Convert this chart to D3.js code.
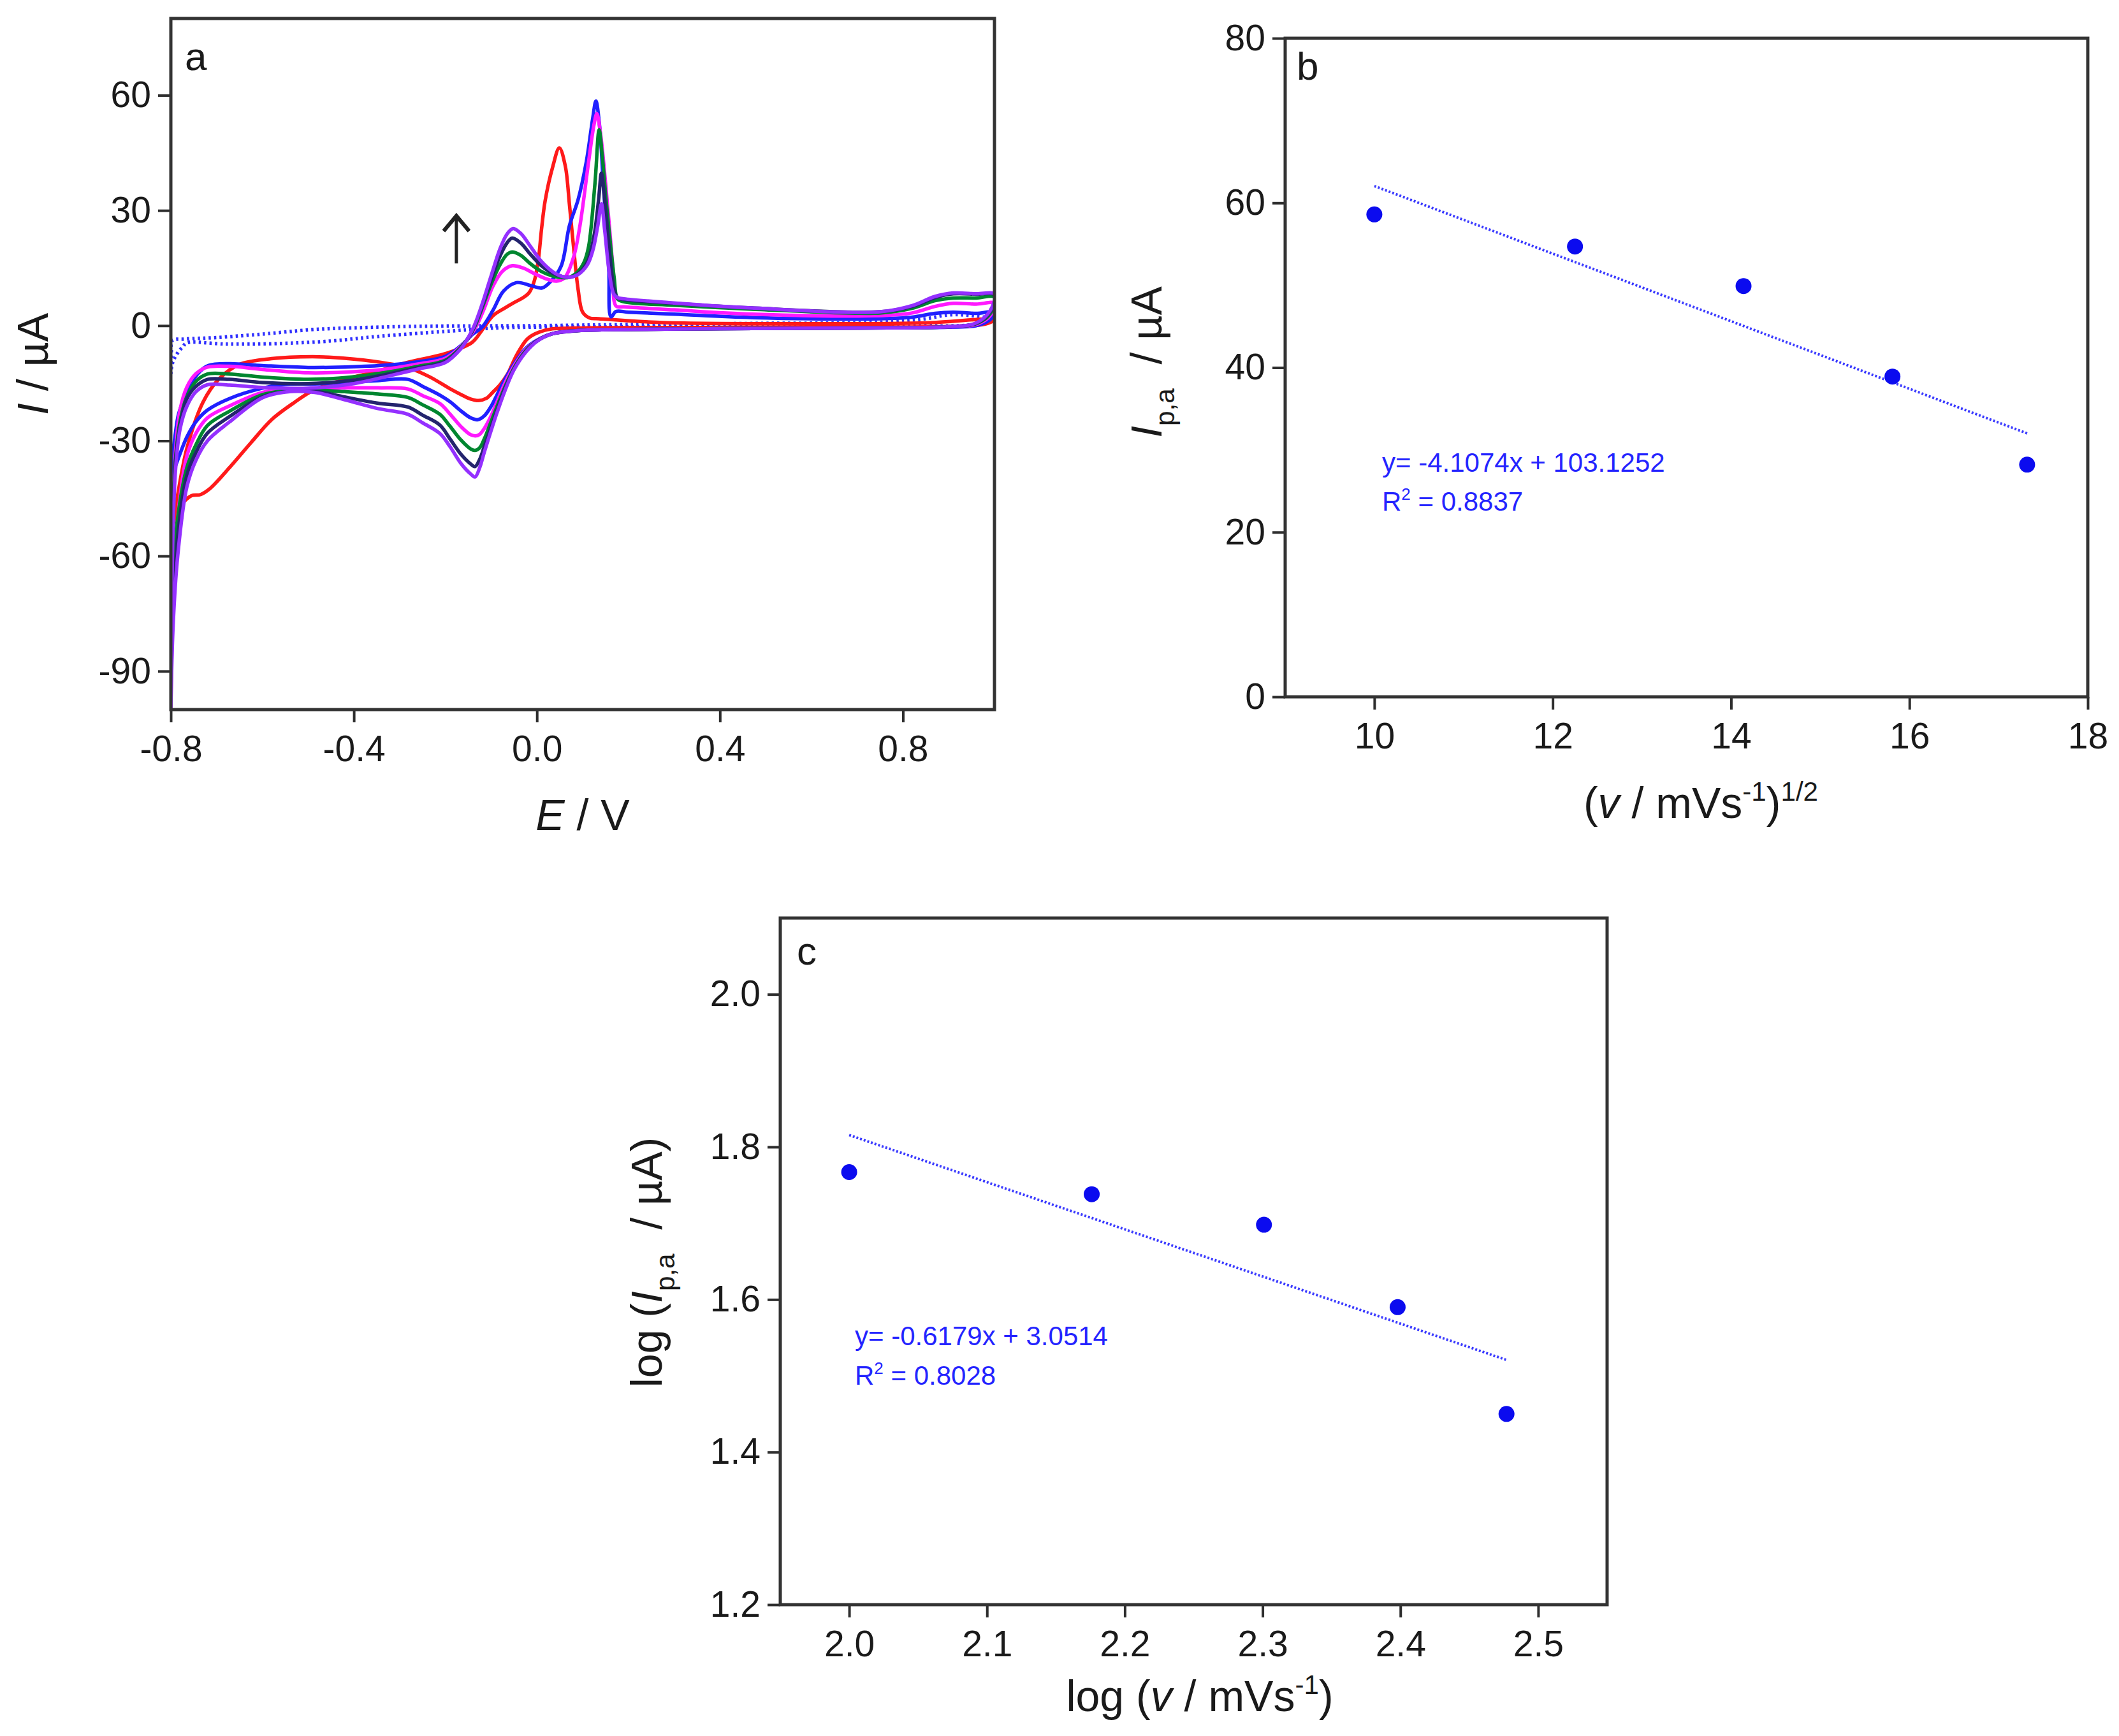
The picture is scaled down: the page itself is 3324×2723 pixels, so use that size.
<!DOCTYPE html>
<html>
<head>
<meta charset="utf-8">
<script src="https://cdn.jsdelivr.net/npm/d3@7"></script>
<style>
  body { margin: 0; background: #fff; overflow: hidden; }
  text { font-family: "Liberation Sans", Arial, sans-serif; fill: #1a1a1a; white-space: pre; }
</style>
</head>
<body>
<div id="chart"></div>
<script>
// ---- panel a: cyclic voltammograms, [E (V), I (uA)] in scan order ----
const cvRed = [[-0.8,-55],[-0.79,-49.5],[-0.779,-47],[-0.755,-44.3],[-0.735,-44],[-0.715,-42.5],[-0.672,-37],[-0.625,-30.5],[-0.579,-24.4],[-0.53,-20],[-0.486,-16.7],[-0.42,-14],[-0.347,-11.8],[-0.28,-9.5],[-0.2,-7.3],[-0.142,-4.4],[-0.12,-1.2],[-0.096,2.6],[-0.07,4.6],[-0.05,6],[-0.03,7.3],[-0.017,8.6],[-0.006,11.5],[0.003,17],[0.01,25],[0.018,32.5],[0.034,41.1],[0.049,46.3],[0.062,41.6],[0.071,31.7],[0.08,20.6],[0.09,9.5],[0.1,3.5],[0.115,2],[0.136,1.8],[0.276,0.8],[0.6,0.5],[0.85,0.7],[1.0,1.6],
  [0.98,0.4],[0.9,-0.2],[0.6,-0.4],[0.3,-0.5],[0.1,-0.6],[0.03,-0.9],[0.015,-1.3],[-0.005,-2.2],[-0.022,-3.6],[-0.045,-7.8],[-0.064,-12.6],[-0.08,-15.3],[-0.096,-17.3],[-0.11,-18.9],[-0.127,-19.5],[-0.145,-19.1],[-0.165,-18],[-0.189,-16.5],[-0.235,-13.3],[-0.28,-11],[-0.35,-9.4],[-0.42,-8.5],[-0.49,-8.1],[-0.58,-8.6],[-0.65,-10.1],[-0.695,-13.9],[-0.73,-20],[-0.765,-32],[-0.785,-44],[-0.8,-55]];

const cvBlue = [[-0.8,-40],[-0.797,-35],[-0.79,-28],[-0.783,-23],[-0.765,-17.4],[-0.741,-12.5],[-0.718,-10.4],[-0.672,-9.9],[-0.6,-10.4],[-0.5,-10.9],[-0.4,-10.7],[-0.32,-10.2],[-0.26,-9.4],[-0.2,-8],[-0.166,-5.2],[-0.14,-2.2],[-0.119,-0.3],[-0.096,4],[-0.073,9],[-0.045,11.2],[-0.012,10.4],[0.011,9.8],[0.03,11.5],[0.053,15.5],[0.071,26],[0.09,32.8],[0.108,42.7],[0.122,54],[0.129,58.5],[0.137,52],[0.145,37.2],[0.157,15.1],[0.162,2.3],[0.173,3.7],[0.2,3.5],[0.3,3],[0.47,2.1],[0.75,1.8],[0.82,2.2],[0.87,3.2],[0.91,3.5],[0.96,3.2],[1.0,3.5],
  [0.99,1.5],[0.96,0],[0.9,-0.4],[0.7,-0.6],[0.4,-0.8],[0.2,-1.0],[0.09,-1.3],[0.034,-2.1],[0,-3.8],[-0.025,-6],[-0.05,-10],[-0.07,-14],[-0.087,-18],[-0.1,-21],[-0.115,-23.5],[-0.129,-24.5],[-0.145,-24],[-0.166,-22.2],[-0.19,-19.8],[-0.212,-18.1],[-0.25,-15.8],[-0.282,-14],[-0.347,-14.3],[-0.42,-14.8],[-0.486,-15.2],[-0.55,-15.3],[-0.6,-16.3],[-0.672,-19],[-0.72,-22],[-0.745,-25],[-0.765,-29],[-0.785,-35],[-0.8,-40]];

const cvMagenta = [[-0.8,-100],[-0.798,-70],[-0.795,-48],[-0.79,-33],[-0.78,-22],[-0.765,-16],[-0.745,-12.5],[-0.72,-10.8],[-0.672,-10.6],[-0.6,-11.4],[-0.5,-12.3],[-0.4,-12],[-0.32,-11.2],[-0.26,-10],[-0.2,-8.5],[-0.166,-5.4],[-0.145,-2.5],[-0.133,-0.3],[-0.115,4.5],[-0.096,10.3],[-0.075,14.2],[-0.054,15.6],[-0.03,15],[-0.003,13.4],[0.02,12.2],[0.043,11.6],[0.06,12.4],[0.08,17.8],[0.094,26],[0.113,42.7],[0.125,52.5],[0.131,55.2],[0.139,50],[0.15,37.2],[0.166,15.1],[0.173,5.1],[0.19,4.9],[0.3,4.1],[0.47,3.0],[0.75,2.6],[0.82,3.3],[0.87,5],[0.91,5.8],[0.96,5.6],[1.0,5.8],
  [0.99,2.5],[0.96,0.3],[0.9,-0.3],[0.7,-0.6],[0.4,-0.8],[0.2,-1.0],[0.09,-1.3],[0.034,-2.1],[0,-3.9],[-0.025,-6.3],[-0.05,-10.5],[-0.07,-15],[-0.087,-19.8],[-0.1,-23.5],[-0.115,-26.8],[-0.125,-28.3],[-0.133,-28.7],[-0.145,-28.4],[-0.166,-26.3],[-0.19,-23],[-0.212,-20.3],[-0.25,-18.2],[-0.282,-16.5],[-0.347,-16.2],[-0.42,-16.2],[-0.486,-16.4],[-0.55,-16.6],[-0.6,-17.4],[-0.672,-20.9],[-0.72,-24],[-0.745,-28],[-0.765,-34],[-0.785,-50],[-0.795,-72],[-0.8,-100]];

const cvGreen = [[-0.8,-72],[-0.797,-52],[-0.79,-35],[-0.78,-25],[-0.765,-18.5],[-0.745,-14.5],[-0.72,-12.6],[-0.672,-12.6],[-0.6,-13.4],[-0.5,-14],[-0.4,-13.3],[-0.32,-12],[-0.26,-10.6],[-0.2,-9],[-0.166,-5.6],[-0.15,-3.2],[-0.136,-0.3],[-0.12,4.5],[-0.1,10.8],[-0.08,16],[-0.065,18.6],[-0.054,19.2],[-0.035,18.3],[-0.015,16.2],[0.01,14.1],[0.035,12.9],[0.055,12.5],[0.071,12.6],[0.089,14],[0.103,16.5],[0.113,20.6],[0.127,37.2],[0.136,51],[0.143,44],[0.152,31.7],[0.169,12.3],[0.176,7],[0.19,6.2],[0.3,5.3],[0.47,4.3],[0.75,3.3],[0.82,4.5],[0.87,6.5],[0.91,7.2],[0.96,7.2],[1.0,7.4],
  [0.99,3],[0.96,0.5],[0.9,-0.3],[0.7,-0.6],[0.4,-0.8],[0.2,-1.0],[0.09,-1.3],[0.034,-2.1],[0,-4],[-0.025,-6.6],[-0.05,-11],[-0.07,-16],[-0.087,-21],[-0.1,-25],[-0.115,-29.5],[-0.125,-31.8],[-0.135,-32.5],[-0.145,-32.1],[-0.166,-29.8],[-0.19,-26.2],[-0.212,-23.1],[-0.25,-20.6],[-0.282,-18.7],[-0.347,-17.8],[-0.42,-17.2],[-0.486,-16.8],[-0.55,-17],[-0.6,-18],[-0.672,-22.3],[-0.72,-26],[-0.745,-31],[-0.765,-37],[-0.785,-50],[-0.8,-72]];

const cvNavy = [[-0.8,-88],[-0.798,-62],[-0.794,-45],[-0.788,-33],[-0.778,-25],[-0.765,-19],[-0.745,-15.8],[-0.72,-14],[-0.672,-14],[-0.6,-14.8],[-0.5,-15.1],[-0.4,-14.2],[-0.32,-12.5],[-0.26,-11],[-0.2,-9.3],[-0.166,-5.8],[-0.15,-3.3],[-0.137,-0.3],[-0.12,5],[-0.1,12],[-0.08,18.3],[-0.065,21.6],[-0.054,22.8],[-0.035,21.5],[-0.015,18.7],[0.01,15.6],[0.035,13.6],[0.055,12.8],[0.071,12.6],[0.09,13.5],[0.11,16.5],[0.125,23.5],[0.135,33],[0.141,39.7],[0.148,33],[0.158,20],[0.168,10],[0.176,7.3],[0.19,6.8],[0.3,5.8],[0.47,4.6],[0.75,3.6],[0.82,5],[0.87,7.3],[0.91,8.3],[0.96,8.2],[1.0,8],
  [0.99,3.5],[0.96,0.6],[0.9,-0.3],[0.7,-0.6],[0.4,-0.8],[0.2,-1.0],[0.09,-1.3],[0.034,-2.1],[0,-4],[-0.025,-6.8],[-0.05,-11.3],[-0.07,-16.5],[-0.087,-22],[-0.1,-26.5],[-0.115,-31.5],[-0.125,-34.8],[-0.135,-36.7],[-0.145,-36],[-0.166,-33.5],[-0.19,-29.5],[-0.212,-25.9],[-0.25,-23.3],[-0.282,-21.2],[-0.347,-20.2],[-0.42,-18.6],[-0.486,-17.1],[-0.55,-17.2],[-0.6,-18.5],[-0.672,-23.7],[-0.72,-28],[-0.745,-33],[-0.765,-39],[-0.785,-55],[-0.8,-88]];

const cvPurple = [[-0.8,-100],[-0.798,-72],[-0.795,-52],[-0.79,-38],[-0.78,-27],[-0.765,-21],[-0.745,-17.2],[-0.72,-15.4],[-0.672,-15.5],[-0.6,-16.1],[-0.5,-16.3],[-0.4,-15.1],[-0.32,-13],[-0.26,-11.3],[-0.2,-9.6],[-0.166,-6],[-0.156,-4.3],[-0.138,-0.3],[-0.12,5.5],[-0.1,13],[-0.08,20.2],[-0.065,23.9],[-0.052,25.3],[-0.035,24],[-0.015,20.8],[0.01,16.7],[0.035,14],[0.055,12.8],[0.071,12.6],[0.09,13.3],[0.11,15.8],[0.122,19.5],[0.133,26],[0.141,31.7],[0.148,25],[0.158,14],[0.168,8.2],[0.176,7.3],[0.19,7],[0.3,5.9],[0.47,4.6],[0.75,3.6],[0.82,5.2],[0.87,7.6],[0.91,8.5],[0.96,8.3],[1.0,8.2],
  [0.99,3.8],[0.96,0.7],[0.9,-0.3],[0.7,-0.6],[0.4,-0.8],[0.2,-1.0],[0.09,-1.3],[0.034,-2.1],[0,-4.1],[-0.025,-7],[-0.05,-11.5],[-0.07,-17],[-0.087,-22.6],[-0.1,-27.3],[-0.115,-33],[-0.125,-37],[-0.135,-39.4],[-0.145,-38.6],[-0.166,-35.9],[-0.19,-31.5],[-0.212,-28.1],[-0.25,-25.3],[-0.282,-23.1],[-0.347,-21.6],[-0.42,-19.3],[-0.486,-17.4],[-0.55,-17.3],[-0.6,-18.8],[-0.672,-25.1],[-0.72,-30],[-0.745,-35],[-0.765,-42],[-0.785,-60],[-0.795,-78],[-0.8,-100]];

// blank electrode (dotted)
const cvBlank = [[-0.8,-12.6],[-0.799,-7],[-0.797,-3.9],[-0.77,-3.5],[-0.7,-3.1],[-0.6,-2.2],[-0.487,-1.0],[-0.35,-0.4],[-0.2,-0.1],[0,0],[0.2,0.3],[0.5,0.6],[0.75,0.9],[0.85,1.8],[0.9,2.8],[0.95,2.6],[1.0,1.5],
  [0.95,0.2],[0.8,0],[0.5,-0.1],[0.2,-0.3],[0,-0.4],[-0.087,-0.6],[-0.2,-1.5],[-0.347,-2.8],[-0.45,-4.0],[-0.578,-4.7],[-0.68,-4.8],[-0.765,-4.5],[-0.774,-5.5],[-0.788,-7.6],[-0.797,-10],[-0.8,-12.6]];

const cvSeries = [
  { name: "red", color: "#ff1a1a", pts: cvRed },
  { name: "blue", color: "#2020ff", pts: cvBlue },
  { name: "magenta", color: "#ff19ff", pts: cvMagenta },
  { name: "green", color: "#00862f", pts: cvGreen },
  { name: "navy", color: "#24246e", pts: cvNavy },
  { name: "purple", color: "#9430ff", pts: cvPurple }
];
const arrowA = [[-0.176, 16.2], [-0.176, 28.6]];

const ticksAx = [-0.8, -0.4, 0.0, 0.4, 0.8];
const ticksAy = [-90, -60, -30, 0, 30, 60];

// ---- panel b: Ip,a vs sqrt(scan rate) ----
const sqrtRate = [10.0, 12.25, 14.14, 15.81, 17.32];
const ipa = [58.6, 54.7, 49.9, 38.9, 28.2];
const fitB = [[10.0, 62.05], [17.32, 32.0]];
const ticksBx = [10, 12, 14, 16, 18];
const ticksBy = [0, 20, 40, 60, 80];

// ---- panel c: log Ip,a vs log scan rate ----
const logRate = [2.0, 2.176, 2.301, 2.398, 2.477];
const logIpa = [1.767, 1.738, 1.698, 1.590, 1.450];
const fitC = [[2.0, 1.8156], [2.477, 1.5208]];
const ticksCx = [2.0, 2.1, 2.2, 2.3, 2.4, 2.5];
const ticksCy = [1.2, 1.4, 1.6, 1.8, 2.0];

const W = 3324, H = 2723;
const svg = d3.select("#chart").append("svg").attr("width", W).attr("height", H);
svg.append("rect").attr("width", W).attr("height", H).attr("fill", "#fff");

const TICK_FONT = 57, TITLE_FONT = 68;
// plain hyphen for negatives, like the original figure
const fmt = spec => d => d3.format(spec)(d).replace("\u2212", "-");

function panel(box, xDom, yDom, xTicks, yTicks, xFmt, yFmt) {
  const x = d3.scaleLinear().domain(xDom).range([box.left, box.right]);
  const y = d3.scaleLinear().domain(yDom).range([box.bottom, box.top]);
  const g = svg.append("g");

  const styleAxis = sel => {
    sel.select(".domain").remove();
    sel.selectAll(".tick line").attr("stroke", "#2e2e2e").attr("stroke-width", 4);
    sel.selectAll(".tick text").attr("font-size", TICK_FONT).attr("fill", "#1a1a1a")
      .style("font-family", '"Liberation Sans", Arial, sans-serif');
  };
  g.append("g").attr("transform", `translate(0,${box.bottom})`)
    .call(d3.axisBottom(x).tickValues(xTicks).tickFormat(xFmt).tickSize(20).tickPadding(21).tickSizeOuter(0))
    .call(styleAxis);
  g.append("g").attr("transform", `translate(${box.left},0)`)
    .call(d3.axisLeft(y).tickValues(yTicks).tickFormat(yFmt).tickSize(20).tickPadding(11).tickSizeOuter(0))
    .call(styleAxis);

  const id = "clip" + Math.round(box.left);
  svg.append("clipPath").attr("id", id).append("rect")
    .attr("x", box.left).attr("y", box.top)
    .attr("width", box.right - box.left).attr("height", box.bottom - box.top);
  const plot = svg.append("g").attr("clip-path", `url(#${id})`);
  const frame = () => svg.append("rect")
    .attr("x", box.left).attr("y", box.top)
    .attr("width", box.right - box.left).attr("height", box.bottom - box.top)
    .attr("fill", "none").attr("stroke", "#333").attr("stroke-width", 5);
  return { x, y, plot, frame };
}

// rich text helper: parts {t, it, sup, sub}
function rich(sel, parts, size) {
  let shift = 0;
  parts.forEach(p => {
    const target = p.sup ? -0.4 * size : p.sub ? 0.3 * size : 0;
    sel.append("tspan")
      .attr("dy", target - shift)
      .attr("font-size", (p.sup || p.sub) ? size * 0.62 : size)
      .attr("font-style", p.it ? "italic" : "normal")
      .text(p.t);
    shift = target;
  });
  return sel;
}

// ================= panel a =================
const pa = panel({ left: 268, right: 1560, top: 29, bottom: 1113 }, [-0.8, 1.0], [-100, 80],
  ticksAx, ticksAy, fmt(".1f"), fmt("d"));

const cvLine = d3.line().x(d => pa.x(d[0])).y(d => pa.y(d[1])).curve(d3.curveCatmullRom.alpha(0.5));

pa.plot.append("path").datum(cvBlank).attr("d", cvLine)
  .attr("fill", "none").attr("stroke", "#3030ff").attr("stroke-width", 5.5)
  .attr("stroke-dasharray", "3.5,5");

pa.plot.selectAll("path.cv").data(cvSeries).join("path").attr("class", "cv")
  .attr("d", d => cvLine(d.pts))
  .attr("fill", "none").attr("stroke", d => d.color).attr("stroke-width", 5.5)
  .attr("stroke-linejoin", "round");

// arrow
const arrowLine = d3.line().x(d => pa.x(d[0])).y(d => pa.y(d[1]));
svg.append("path").datum(arrowA).attr("d", arrowLine)
  .attr("stroke", "#222").attr("stroke-width", 5).attr("fill", "none");
const tipX = pa.x(arrowA[1][0]), tipY = pa.y(arrowA[1][1]);
svg.append("path")
  .attr("d", `M${tipX - 20},${tipY + 24}L${tipX},${tipY}L${tipX + 20},${tipY + 24}`)
  .attr("stroke", "#222").attr("stroke-width", 6).attr("fill", "none").attr("stroke-linejoin", "miter");
pa.frame();

svg.append("text").attr("x", 290).attr("y", 110).attr("font-size", 62).text("a");
rich(svg.append("text").attr("x", 914).attr("y", 1302).attr("text-anchor", "middle"),
  [{ t: "E", it: true }, { t: " / V" }], TITLE_FONT);
rich(svg.append("text").attr("transform", "translate(75,571) rotate(-90)").attr("text-anchor", "middle"),
  [{ t: "I", it: true }, { t: " / µA" }], TITLE_FONT);

// ================= panel b =================
const pb = panel({ left: 2016, right: 3275, top: 60, bottom: 1093 }, [9, 18], [0, 80],
  ticksBx, ticksBy, fmt("d"), fmt("d"));
const fitLineB = d3.line().x(d => pb.x(d[0])).y(d => pb.y(d[1]));
pb.plot.append("path").datum(fitB).attr("d", fitLineB)
  .attr("stroke", "#3a3aff").attr("stroke-width", 4).attr("stroke-dasharray", "3,3").attr("fill", "none");
pb.plot.selectAll("circle").data(sqrtRate).join("circle")
  .attr("cx", d => pb.x(d)).attr("cy", (d, i) => pb.y(ipa[i])).attr("r", 12.5).attr("fill", "#0b0bef");
pb.frame();

svg.append("text").attr("x", 2034).attr("y", 125).attr("font-size", 62).text("b");
svg.append("text").attr("x", 2168).attr("y", 740).attr("font-size", 42).style("fill", "#2424ff")
  .text("y= -4.1074x + 103.1252");
rich(svg.append("text").attr("x", 2168).attr("y", 801).style("fill", "#2424ff"),
  [{ t: "R" }, { t: "2", sup: true }, { t: " = 0.8837" }], 42);
rich(svg.append("text").attr("x", 2668).attr("y", 1283).attr("text-anchor", "middle"),
  [{ t: "(" }, { t: "v", it: true }, { t: " / mVs" }, { t: "-1", sup: true }, { t: ")" }, { t: "1/2", sup: true }], TITLE_FONT);
rich(svg.append("text").attr("transform", "translate(1822,568) rotate(-90)").attr("text-anchor", "middle"),
  [{ t: "I", it: true }, { t: "p,a", sub: true }, { t: "  / µA" }], TITLE_FONT);

// ================= panel c =================
const pc = panel({ left: 1224, right: 2521, top: 1440, bottom: 2517 }, [1.95, 2.55], [1.2, 2.1],
  ticksCx, ticksCy, fmt(".1f"), fmt(".1f"));
const fitLineC = d3.line().x(d => pc.x(d[0])).y(d => pc.y(d[1]));
pc.plot.append("path").datum(fitC).attr("d", fitLineC)
  .attr("stroke", "#3a3aff").attr("stroke-width", 4).attr("stroke-dasharray", "3,3").attr("fill", "none");
pc.plot.selectAll("circle").data(logRate).join("circle")
  .attr("cx", d => pc.x(d)).attr("cy", (d, i) => pc.y(logIpa[i])).attr("r", 12.5).attr("fill", "#0b0bef");
pc.frame();

svg.append("text").attr("x", 1250).attr("y", 1513).attr("font-size", 62).text("c");
svg.append("text").attr("x", 1341).attr("y", 2110).attr("font-size", 42).style("fill", "#2424ff")
  .text("y= -0.6179x + 3.0514");
rich(svg.append("text").attr("x", 1341).attr("y", 2172).style("fill", "#2424ff"),
  [{ t: "R" }, { t: "2", sup: true }, { t: " = 0.8028" }], 42);
rich(svg.append("text").attr("x", 1882).attr("y", 2684).attr("text-anchor", "middle"),
  [{ t: "log (" }, { t: "v", it: true }, { t: " / mVs" }, { t: "-1", sup: true }, { t: ")" }], TITLE_FONT);
rich(svg.append("text").attr("transform", "translate(1038,1980) rotate(-90)").attr("text-anchor", "middle"),
  [{ t: "log (" }, { t: "I", it: true }, { t: "p,a", sub: true }, { t: "  / µA)" }], TITLE_FONT);
</script>
</body>
</html>
